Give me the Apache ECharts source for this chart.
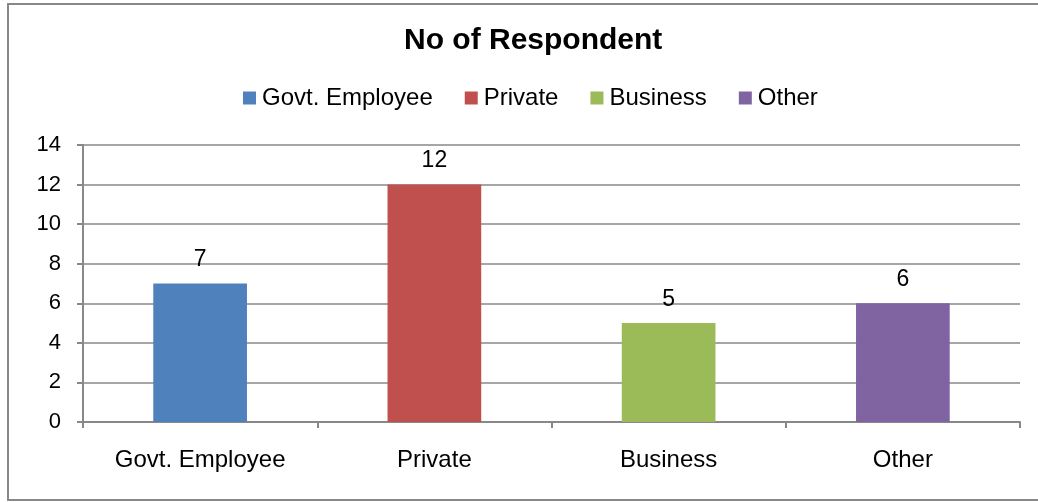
<!DOCTYPE html>
<html><head><meta charset="utf-8">
<script src="https://cdn.jsdelivr.net/npm/echarts@6/dist/echarts.min.js"></script>
<style>html,body{margin:0;padding:0;background:#fff}#c{width:1038px;height:502px}</style>
</head><body><div id="c"></div>
<script>
const categories = ['Govt. Employee', 'Private', 'Business', 'Other'];
const values = [7, 12, 5, 6];
const colors = ['#4F81BD', '#C0504D', '#9BBB59', '#8064A2'];
const yTicks = [0, 2, 4, 6, 8, 10, 12, 14];

const font = 'Liberation Sans, Arial, sans-serif';
const chart = echarts.init(document.getElementById('c'));
const series = categories.map((name, i) => ({
  name: name,
  type: 'bar',
  stack: 'all',
  barWidth: '40%',
  data: categories.map((c, j) => j === i ? values[j] : null),
  itemStyle: { color: colors[i] },
  label: { show: true, position: 'top', distance: 12, color: '#000', fontSize: 23, fontFamily: font }
}));
chart.setOption({
  animation: false,
  title: {
    text: 'No of Respondent', left: 399, top: 21,
    textStyle: { fontFamily: font, fontWeight: 'bold', fontSize: 30, color: '#000' }
  },
  legend: {
    top: 81, left: 238, itemWidth: 13, itemHeight: 13, itemGap: 32,
    icon: 'rect',
    textStyle: { fontFamily: font, fontSize: 24, color: '#000', padding: [0, 0, 0, 1] },
    data: categories
  },
  graphic: [{
    type: 'rect', shape: { x: 8, y: 4, width: 1040, height: 496 },
    style: { fill: 'none', stroke: '#888', lineWidth: 2 }, silent: true
  }],
  grid: { left: 83, right: 18, top: 145, bottom: 80 },
  xAxis: {
    type: 'category', data: categories,
    axisLine: { lineStyle: { color: '#888', width: 2 } },
    axisTick: { show: true, length: 6, lineStyle: { color: '#888', width: 2 } },
    axisLabel: { color: '#000', fontSize: 24, fontFamily: font, margin: 26 }
  },
  yAxis: {
    type: 'value', min: yTicks[0], max: yTicks[yTicks.length - 1], interval: 2,
    axisLine: { show: true, lineStyle: { color: '#888', width: 2 } },
    axisTick: { show: true, length: 6, lineStyle: { color: '#888', width: 2 } },
    splitLine: { lineStyle: { color: '#888', width: 1.5 } },
    axisLabel: { color: '#000', fontSize: 22, fontFamily: font, margin: 22 }
  },
  series: series
});
</script></body></html>
